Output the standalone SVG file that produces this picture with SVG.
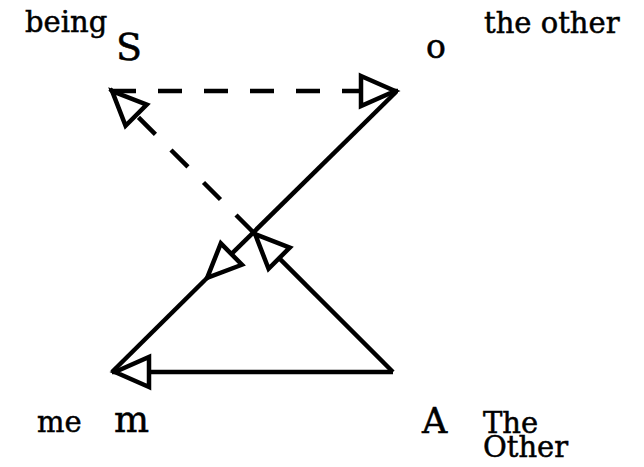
<svg xmlns="http://www.w3.org/2000/svg" width="644" height="467" viewBox="0 0 644 467">
<style>
.t{font-family:"DejaVu Serif","Liberation Serif",serif;fill:#000;stroke:#000;stroke-width:0.5}
.lab{font-size:29px}
.sym{font-size:37px}
.ln{stroke:#000;stroke-width:4.5;fill:none}
.dash{stroke-dasharray:24 22}
</style>
<defs>
<marker id="ah" markerUnits="userSpaceOnUse" orient="auto" refX="0" refY="0" markerWidth="60" markerHeight="60" viewBox="-50 -25 60 50" overflow="visible">
<path d="M-37,-15 L-3,0 L-37,15 Z" fill="#fff" stroke="#000" stroke-width="4.5" stroke-linejoin="miter"/>
</marker>
</defs>
<g id="connectors">
<line class="ln dash" x1="112" y1="91" x2="398" y2="91" marker-end="url(#ah)"/>
<line class="ln" x1="396" y1="92" x2="205" y2="280" marker-end="url(#ah)"/>
<line class="ln" x1="205" y1="280" x2="112" y2="372"/>
<line class="ln" x1="393" y1="372" x2="112" y2="372" marker-end="url(#ah)"/>
<line class="ln dash" x1="253" y1="232" x2="110" y2="89" marker-end="url(#ah)"/>
<line class="ln" x1="393" y1="372" x2="253" y2="232" marker-end="url(#ah)"/>
</g>
<g id="node-S">
<text class="t lab" x="25" y="32">being</text>
<text class="t sym" x="116" y="60" style="font-size:38px">S</text>
</g>
<g id="node-o">
<text class="t sym" x="426" y="58" style="font-size:33px">o</text>
<text class="t lab" x="484" y="33">the  other</text>
</g>
<g id="node-m">
<text class="t lab" x="37" y="432">me</text>
<text class="t sym" x="114" y="432">m</text>
</g>
<g id="node-A">
<text class="t sym" x="422" y="433" style="font-size:35px">A</text>
<text class="t lab" x="483" y="433">The</text>
<text class="t lab" x="483" y="457">Other</text>
</g>
</svg>
